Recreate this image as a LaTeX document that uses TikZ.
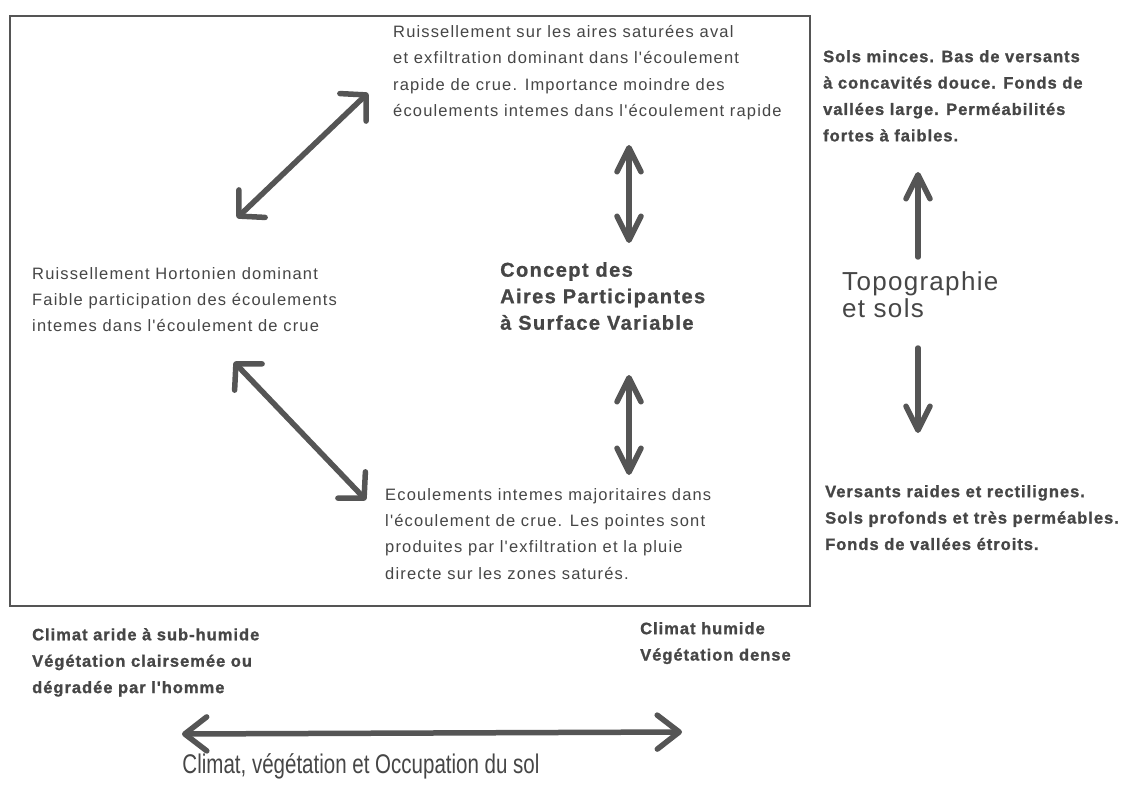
\documentclass[tikz,border=0pt]{standalone}
\usepackage{fontspec}
\setmainfont{Liberation Sans}
\newfontfamily\rfont[LetterSpace=7,Ligatures=NoCommon]{Liberation Sans}
\newfontfamily\bfont[LetterSpace=6,Ligatures=NoCommon,FakeBold=1.2]{Liberation Sans Bold}
\newfontfamily\cfont[LetterSpace=7,FakeBold=1]{Liberation Sans Bold}
\newfontfamily\lfont[LetterSpace=5]{Liberation Sans}
\newfontfamily\kfont{Liberation Sans}
\usetikzlibrary{arrows.meta}
\definecolor{ink}{HTML}{464646}
\definecolor{arrowgray}{HTML}{555555}
\begin{document}
\begin{tikzpicture}[x=1pt,y=-1pt,
  txt/.style={anchor=north west, inner sep=0pt, align=left, text=ink,
    font=\rfont\fontsize{16.5}{26.4}\selectfont},
  btxt/.style={anchor=north west, inner sep=0pt, align=left, text=ink,
    font=\bfont\fontsize{16.5}{26.4}\selectfont},
  ctxt/.style={anchor=north west, inner sep=0pt, align=left, text=ink,
    font=\cfont\fontsize{20}{26.5}\selectfont},
  ltxt/.style={inner sep=0pt, align=left, text=ink,
    font=\lfont\fontsize{26}{27}\selectfont},
  ktxt/.style={inner sep=0pt, text=ink, font=\kfont\fontsize{27}{30}\selectfont},
  narrowhead/.tip={Straight Barb[length=24pt,width=24pt,round]},
  widehead/.tip={Straight Barb[length=18pt,width=38pt,round]},
  bighead/.tip={Straight Barb[length=22pt,width=34pt,round]},
  arr/.style={draw=arrowgray, line width=5.5pt, line cap=round},
  frame/.style={draw=arrowgray, line width=2.8pt}
]
\useasboundingbox[fill=white] (0,0) rectangle (1127,794);
\draw[frame] (10,16) rectangle (810,606);

\node[txt] (top) at (393,25) {Ruissellement sur les aires saturées aval\\
et exfiltration dominant dans l'écoulement\\
rapide de crue. Importance moindre des\\
écoulements intemes dans l'écoulement rapide};

\node[txt] (left) at (32,267) {Ruissellement Hortonien dominant\\
Faible participation des écoulements\\
intemes dans l'écoulement de crue};

\node[ctxt] (center) at (500,262) {Concept des\\Aires Participantes\\à Surface Variable};

\node[txt] (bottom) at (385,488) {Ecoulements intemes majoritaires dans\\
l'écoulement de crue. Les pointes sont\\
produites par l'exfiltration et la pluie\\
directe sur les zones saturés.};

\node[btxt] (rtop) at (823,50) {Sols minces. Bas de versants\\
à concavités douce. Fonds de\\
vallées large. Perméabilités\\
fortes à faibles.};

\node[btxt] (rbot) at (825,485) {Versants raides et rectilignes.\\
Sols profonds et très perméables.\\
Fonds de vallées étroits.};

\node[ltxt, anchor=north west] (topo) at (842,271) {Topographie\\et sols};

\node[btxt] (arid) at (32,628) {Climat aride à sub-humide\\
Végétation clairsemée ou\\
dégradée par l'homme};

\node[btxt] (humid) at (640,622) {Climat humide\\Végétation dense};

\node[ktxt] (clim) at (361,766) {\scalebox{0.76}[1]{Climat, végétation et Occupation du sol}};

\coordinate (d1a) at (237,218);
\coordinate (d1b) at (368,93);
\coordinate (d2a) at (234,362);
\coordinate (d2b) at (366,500);
\coordinate (v1a) at (629,145);
\coordinate (v1b) at (629,243);
\coordinate (v2a) at (629,375);
\coordinate (v2b) at (629,475);
\coordinate (r1a) at (918,257);
\coordinate (r1b) at (918,172);
\coordinate (r2a) at (918,348);
\coordinate (r2b) at (918,433);
\coordinate (h1a) at (182,734);
\coordinate (h1b) at (682,732);

\draw[arr, {widehead}-{widehead}] (d1a) -- (d1b);
\draw[arr, {widehead}-{widehead}] (d2a) -- (d2b);
\draw[arr, {narrowhead}-{narrowhead}] (v1a) -- (v1b);
\draw[arr, {narrowhead}-{narrowhead}] (v2a) -- (v2b);
\draw[arr, -{narrowhead}] (r1a) -- (r1b);
\draw[arr, -{narrowhead}] (r2a) -- (r2b);
\draw[arr, {bighead}-{bighead}] (h1a) -- (h1b);
\end{tikzpicture}
\end{document}
